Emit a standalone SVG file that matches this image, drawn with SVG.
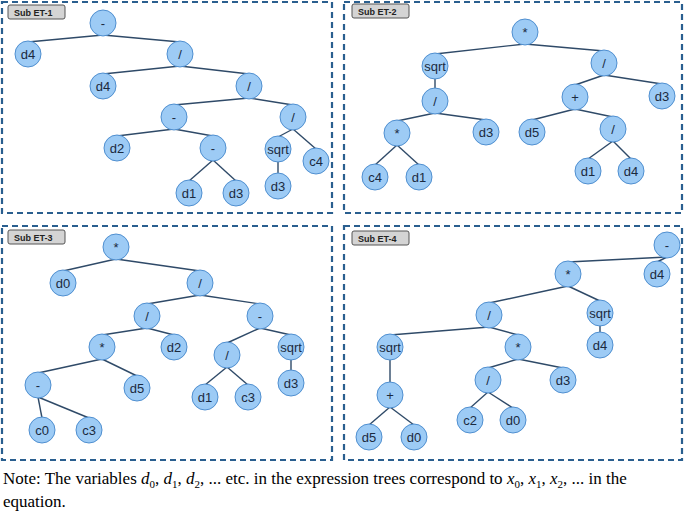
<svg xmlns="http://www.w3.org/2000/svg" width="685" height="514" viewBox="0 0 685 514">
<style>
.p{fill:none;stroke:#2a5f8f;stroke-width:2.2;stroke-dasharray:6,4}
.t rect{fill:#d4d4d4;stroke:#555;stroke-width:1}
.t text{font-family:"Liberation Sans",Arial,sans-serif;font-size:9px;font-weight:bold;fill:#222}
circle{fill:#9dcbf5;stroke:#4f8fd0;stroke-width:1}
.n text{font-family:"Liberation Sans",Arial,sans-serif;font-size:13px;fill:#1a2a40;text-anchor:middle;dominant-baseline:central}
#edges line{stroke:#2f4a68;stroke-width:1.4}
.note{font-family:"Liberation Serif","Times New Roman",serif;font-size:17px;fill:#000}
</style>
<rect class="p" x="2" y="2" width="330" height="211"/>
<rect class="p" x="344" y="2" width="338" height="211"/>
<rect class="p" x="2" y="226" width="330" height="234"/>
<rect class="p" x="344" y="226" width="338" height="234"/>
<g class="t"><rect x="8" y="5" width="57" height="14" rx="2"/><text x="14" y="16">Sub ET-1</text></g>
<g class="t"><rect x="352" y="4" width="57" height="14" rx="2"/><text x="358" y="15">Sub ET-2</text></g>
<g class="t"><rect x="8" y="230" width="57" height="14" rx="2"/><text x="14" y="241">Sub ET-3</text></g>
<g class="t"><rect x="352" y="231" width="57" height="14" rx="2"/><text x="358" y="242">Sub ET-4</text></g>
<g id="edges">
<line x1="103" y1="35" x2="28" y2="42"/><line x1="103" y1="35" x2="180" y2="42"/>
<line x1="180" y1="66" x2="103" y2="74"/><line x1="180" y1="66" x2="249" y2="74"/>
<line x1="249" y1="98" x2="174" y2="105"/><line x1="249" y1="98" x2="293" y2="105"/>
<line x1="174" y1="129" x2="117" y2="136"/><line x1="174" y1="129" x2="213" y2="136"/>
<line x1="293" y1="129" x2="278" y2="137"/><line x1="293" y1="129" x2="316" y2="149"/>
<line x1="213" y1="160" x2="189" y2="181"/><line x1="213" y1="160" x2="236" y2="181"/>
<line x1="278" y1="161" x2="278" y2="174"/>
<line x1="525" y1="44" x2="435" y2="54"/><line x1="525" y1="44" x2="604" y2="51"/>
<line x1="435" y1="78" x2="435" y2="89"/>
<line x1="604" y1="75" x2="575" y2="85"/><line x1="604" y1="75" x2="662" y2="84"/>
<line x1="435" y1="113" x2="397" y2="121"/><line x1="435" y1="113" x2="486" y2="120"/>
<line x1="575" y1="109" x2="532" y2="120"/><line x1="575" y1="109" x2="613" y2="117"/>
<line x1="397" y1="145" x2="375" y2="165"/><line x1="397" y1="145" x2="419" y2="165"/>
<line x1="613" y1="141" x2="588" y2="159"/><line x1="613" y1="141" x2="631" y2="159"/>
<line x1="116" y1="259" x2="63" y2="271"/><line x1="116" y1="259" x2="200" y2="271"/>
<line x1="200" y1="295" x2="147" y2="304"/><line x1="200" y1="295" x2="260" y2="304"/>
<line x1="147" y1="328" x2="102" y2="335"/><line x1="147" y1="328" x2="174" y2="335"/>
<line x1="260" y1="328" x2="227" y2="343"/><line x1="260" y1="328" x2="291" y2="335"/>
<line x1="102" y1="359" x2="38" y2="373"/><line x1="102" y1="359" x2="137" y2="376"/>
<line x1="227" y1="367" x2="205" y2="385"/><line x1="227" y1="367" x2="248" y2="385"/>
<line x1="291" y1="359" x2="291" y2="371"/>
<line x1="38" y1="397" x2="42" y2="418"/><line x1="38" y1="397" x2="89" y2="418"/>
<line x1="667" y1="257" x2="568" y2="262"/><line x1="667" y1="257" x2="657" y2="262"/>
<line x1="568" y1="286" x2="489" y2="303"/><line x1="568" y1="286" x2="600" y2="301"/>
<line x1="489" y1="327" x2="390" y2="335"/><line x1="489" y1="327" x2="518" y2="335"/>
<line x1="600" y1="325" x2="600" y2="333"/>
<line x1="390" y1="359" x2="390" y2="383"/>
<line x1="518" y1="359" x2="488" y2="368"/><line x1="518" y1="359" x2="563" y2="368"/>
<line x1="488" y1="392" x2="470" y2="408"/><line x1="488" y1="392" x2="513" y2="408"/>
<line x1="390" y1="407" x2="369" y2="425"/><line x1="390" y1="407" x2="414" y2="425"/>
</g>
<g id="n1" class="n"><circle cx="103" cy="23" r="13"/><text x="103" y="23">-</text></g>
<g id="n2" class="n"><circle cx="28" cy="54" r="13"/><text x="28" y="54">d4</text></g>
<g id="n3" class="n"><circle cx="180" cy="54" r="13"/><text x="180" y="54">/</text></g>
<g id="n4" class="n"><circle cx="103" cy="86" r="13"/><text x="103" y="86">d4</text></g>
<g id="n5" class="n"><circle cx="249" cy="86" r="13"/><text x="249" y="86">/</text></g>
<g id="n6" class="n"><circle cx="174" cy="117" r="13"/><text x="174" y="117">-</text></g>
<g id="n7" class="n"><circle cx="293" cy="117" r="13"/><text x="293" y="117">/</text></g>
<g id="n8" class="n"><circle cx="117" cy="148" r="13"/><text x="117" y="148">d2</text></g>
<g id="n9" class="n"><circle cx="213" cy="148" r="13"/><text x="213" y="148">-</text></g>
<g id="n10" class="n"><circle cx="278" cy="149" r="13"/><text x="278" y="149">sqrt</text></g>
<g id="n11" class="n"><circle cx="316" cy="161" r="13"/><text x="316" y="161">c4</text></g>
<g id="n12" class="n"><circle cx="189" cy="193" r="13"/><text x="189" y="193">d1</text></g>
<g id="n13" class="n"><circle cx="236" cy="193" r="13"/><text x="236" y="193">d3</text></g>
<g id="n14" class="n"><circle cx="278" cy="186" r="13"/><text x="278" y="186">d3</text></g>
<g id="m1" class="n"><circle cx="525" cy="32" r="13"/><text x="525" y="32">*</text></g>
<g id="m2" class="n"><circle cx="435" cy="66" r="13"/><text x="435" y="66">sqrt</text></g>
<g id="m3" class="n"><circle cx="604" cy="63" r="13"/><text x="604" y="63">/</text></g>
<g id="m4" class="n"><circle cx="435" cy="101" r="13"/><text x="435" y="101">/</text></g>
<g id="m5" class="n"><circle cx="575" cy="97" r="13"/><text x="575" y="97">+</text></g>
<g id="m6" class="n"><circle cx="662" cy="96" r="13"/><text x="662" y="96">d3</text></g>
<g id="m7" class="n"><circle cx="397" cy="133" r="13"/><text x="397" y="133">*</text></g>
<g id="m8" class="n"><circle cx="486" cy="132" r="13"/><text x="486" y="132">d3</text></g>
<g id="m9" class="n"><circle cx="532" cy="132" r="13"/><text x="532" y="132">d5</text></g>
<g id="m10" class="n"><circle cx="613" cy="129" r="13"/><text x="613" y="129">/</text></g>
<g id="m11" class="n"><circle cx="375" cy="177" r="13"/><text x="375" y="177">c4</text></g>
<g id="m12" class="n"><circle cx="419" cy="177" r="13"/><text x="419" y="177">d1</text></g>
<g id="m13" class="n"><circle cx="588" cy="171" r="13"/><text x="588" y="171">d1</text></g>
<g id="m14" class="n"><circle cx="631" cy="171" r="13"/><text x="631" y="171">d4</text></g>
<g id="k1" class="n"><circle cx="116" cy="247" r="13"/><text x="116" y="247">*</text></g>
<g id="k2" class="n"><circle cx="63" cy="283" r="13"/><text x="63" y="283">d0</text></g>
<g id="k3" class="n"><circle cx="200" cy="283" r="13"/><text x="200" y="283">/</text></g>
<g id="k4" class="n"><circle cx="147" cy="316" r="13"/><text x="147" y="316">/</text></g>
<g id="k5" class="n"><circle cx="260" cy="316" r="13"/><text x="260" y="316">-</text></g>
<g id="k6" class="n"><circle cx="102" cy="347" r="13"/><text x="102" y="347">*</text></g>
<g id="k7" class="n"><circle cx="174" cy="347" r="13"/><text x="174" y="347">d2</text></g>
<g id="k8" class="n"><circle cx="227" cy="355" r="13"/><text x="227" y="355">/</text></g>
<g id="k9" class="n"><circle cx="291" cy="347" r="13"/><text x="291" y="347">sqrt</text></g>
<g id="k10" class="n"><circle cx="38" cy="385" r="13"/><text x="38" y="385">-</text></g>
<g id="k11" class="n"><circle cx="137" cy="388" r="13"/><text x="137" y="388">d5</text></g>
<g id="k12" class="n"><circle cx="205" cy="397" r="13"/><text x="205" y="397">d1</text></g>
<g id="k13" class="n"><circle cx="248" cy="397" r="13"/><text x="248" y="397">c3</text></g>
<g id="k14" class="n"><circle cx="291" cy="383" r="13"/><text x="291" y="383">d3</text></g>
<g id="k15" class="n"><circle cx="42" cy="430" r="13"/><text x="42" y="430">c0</text></g>
<g id="k16" class="n"><circle cx="89" cy="430" r="13"/><text x="89" y="430">c3</text></g>
<g id="q1" class="n"><circle cx="667" cy="245" r="13"/><text x="667" y="245">-</text></g>
<g id="q2" class="n"><circle cx="568" cy="274" r="13"/><text x="568" y="274">*</text></g>
<g id="q3" class="n"><circle cx="657" cy="274" r="13"/><text x="657" y="274">d4</text></g>
<g id="q4" class="n"><circle cx="489" cy="315" r="13"/><text x="489" y="315">/</text></g>
<g id="q5" class="n"><circle cx="600" cy="313" r="13"/><text x="600" y="313">sqrt</text></g>
<g id="q6" class="n"><circle cx="390" cy="347" r="13"/><text x="390" y="347">sqrt</text></g>
<g id="q7" class="n"><circle cx="518" cy="347" r="13"/><text x="518" y="347">*</text></g>
<g id="q8" class="n"><circle cx="600" cy="345" r="13"/><text x="600" y="345">d4</text></g>
<g id="q9" class="n"><circle cx="488" cy="380" r="13"/><text x="488" y="380">/</text></g>
<g id="q10" class="n"><circle cx="563" cy="380" r="13"/><text x="563" y="380">d3</text></g>
<g id="q11" class="n"><circle cx="390" cy="395" r="13"/><text x="390" y="395">+</text></g>
<g id="q12" class="n"><circle cx="470" cy="420" r="13"/><text x="470" y="420">c2</text></g>
<g id="q13" class="n"><circle cx="513" cy="420" r="13"/><text x="513" y="420">d0</text></g>
<g id="q14" class="n"><circle cx="369" cy="437" r="13"/><text x="369" y="437">d5</text></g>
<g id="q15" class="n"><circle cx="414" cy="437" r="13"/><text x="414" y="437">d0</text></g>
<text class="note" x="3" y="484">Note: The variables <tspan font-style="italic">d</tspan><tspan font-size="11" dy="4">0</tspan><tspan dy="-4">, </tspan><tspan font-style="italic">d</tspan><tspan font-size="11" dy="4">1</tspan><tspan dy="-4">, </tspan><tspan font-style="italic">d</tspan><tspan font-size="11" dy="4">2</tspan><tspan dy="-4">, ... etc. in the expression trees correspond to </tspan><tspan font-style="italic">x</tspan><tspan font-size="11" dy="4">0</tspan><tspan dy="-4">, </tspan><tspan font-style="italic">x</tspan><tspan font-size="11" dy="4">1</tspan><tspan dy="-4">, </tspan><tspan font-style="italic">x</tspan><tspan font-size="11" dy="4">2</tspan><tspan dy="-4">, ... in the</tspan></text>
<text class="note" x="3" y="507">equation.</text>
</svg>
